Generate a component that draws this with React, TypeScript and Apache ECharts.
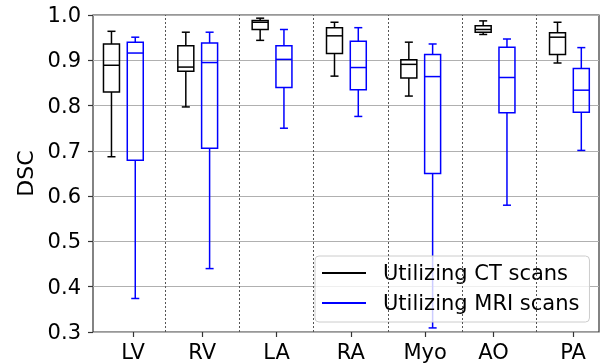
import React, { useEffect, useRef } from "react";
import * as echarts from "echarts";

const categories = ["LV", "RV", "LA", "RA", "Myo", "AO", "PA"];
// [min, q1, median, q3, max]
const ctStats = [
  [0.687, 0.83, 0.889, 0.936, 0.964],
  [0.797, 0.876, 0.885, 0.932, 0.962],
  [0.944, 0.968, 0.984, 0.988, 0.993],
  [0.865, 0.915, 0.954, 0.972, 0.984],
  [0.821, 0.861, 0.891, 0.901, 0.94],
  [0.957, 0.962, 0.968, 0.976, 0.987],
  [0.894, 0.913, 0.951, 0.961, 0.984],
];
const mriStats = [
  [0.374, 0.679, 0.916, 0.94, 0.951],
  [0.44, 0.706, 0.895, 0.938, 0.962],
  [0.75, 0.84, 0.902, 0.932, 0.968],
  [0.776, 0.835, 0.884, 0.942, 0.972],
  [0.309, 0.65, 0.864, 0.913, 0.936],
  [0.58, 0.784, 0.862, 0.929, 0.947],
  [0.701, 0.785, 0.834, 0.882, 0.928],
];
const ctX = [0.28, 1.28, 2.28, 3.28, 4.28, 5.28, 6.28];
const mriX = [0.6, 1.6, 2.6, 3.6, 4.6, 5.6, 6.6];
const tickX = [0.57, 1.5, 2.5, 3.5, 4.5, 5.42, 6.49];
const separators = [1, 2, 3, 4, 5, 6];
const yTicks = [0.3, 0.4, 0.5, 0.6, 0.7, 0.8, 0.9, 1.0];

const FONT = "DejaVu Sans";
const BOX_W = 0.215;
const CAP_W = 0.108;

function makeRender(color: string) {
  return (params: any, api: any) => {
    const x = api.value(0);
    const mn = api.value(1), q1 = api.value(2), md = api.value(3), q3 = api.value(4), mx = api.value(5);
    const c = (xx: number, yy: number) => api.coord([xx, yy]);
    const pMin = c(x, mn), pQ1 = c(x, q1), pMd = c(x, md), pQ3 = c(x, q3), pMax = c(x, mx);
    const bl = c(x - BOX_W / 2, md)[0], br = c(x + BOX_W / 2, md)[0];
    const cl = c(x - CAP_W / 2, md)[0], cr = c(x + CAP_W / 2, md)[0];
    const st = { stroke: color, lineWidth: 1.5, fill: "none" };
    return {
      type: "group",
      children: [
        { type: "line", shape: { x1: pMin[0], y1: pMin[1], x2: pQ1[0], y2: pQ1[1] }, style: st },
        { type: "line", shape: { x1: pQ3[0], y1: pQ3[1], x2: pMax[0], y2: pMax[1] }, style: st },
        { type: "line", shape: { x1: cl, y1: pMin[1], x2: cr, y2: pMin[1] }, style: st },
        { type: "line", shape: { x1: cl, y1: pMax[1], x2: cr, y2: pMax[1] }, style: st },
        { type: "rect", shape: { x: bl, y: pQ3[1], width: br - bl, height: pQ1[1] - pQ3[1] }, style: { ...st, fill: "transparent" } },
        { type: "line", shape: { x1: bl, y1: pMd[1], x2: br, y2: pMd[1] }, style: st },
      ],
    };
  };
}

export default function App() {
  const ref = useRef<HTMLDivElement>(null);
  useEffect(() => {
    const chart = echarts.init(ref.current!, null, { renderer: "svg" });
    const ctData = ctStats.map((s, i) => [ctX[i], ...s]);
    const mriData = mriStats.map((s, i) => [mriX[i], ...s]);
    chart.setOption({
      animation: false,
      grid: { left: 93, right: 3, top: 15, bottom: 31, show: true, borderColor: "#333", borderWidth: 1.2, backgroundColor: "transparent" },
      xAxis: {
        type: "value",
        min: 0.0315,
        max: 6.838,
        axisLine: { show: false },
        splitLine: { show: false },
        axisTick: { show: true, length: 5, customValues: tickX, lineStyle: { color: "#333", width: 1.2 } },
        axisLabel: {
          customValues: tickX,
          margin: 9,
          fontSize: 21,
          fontFamily: FONT,
          color: "#000",
          formatter: (v: number) => {
            const i = tickX.findIndex((t) => Math.abs(t - v) < 1e-6);
            return i >= 0 ? categories[i] : "";
          },
        },
      },
      yAxis: {
        type: "value",
        min: 0.3,
        max: 1.0,
        interval: 0.1,
        name: "DSC",
        nameLocation: "middle",
        nameGap: 56,
        nameTextStyle: { fontSize: 22, fontFamily: FONT, color: "#000" },
        axisLine: { show: false },
        axisTick: { show: true, length: 5, lineStyle: { color: "#333", width: 1.2 } },
        splitLine: { show: true, lineStyle: { color: "#b0b0b0", width: 1 } },
        axisLabel: {
          margin: 12,
          fontSize: 21,
          fontFamily: FONT,
          color: "#000",
          customValues: yTicks,
          formatter: (v: number) => v.toFixed(1),
        },
      },
      legend: {
        orient: "vertical",
        left: 315,
        top: 256,
        itemWidth: 44,
        itemHeight: 2,
        itemGap: 4,
        padding: [4, 10, 6, 7],
        backgroundColor: "rgba(255,255,255,0.8)",
        borderColor: "#cccccc",
        borderWidth: 1,
        borderRadius: 4,
        textStyle: { fontSize: 21, fontFamily: FONT, color: "#000", padding: [0, 0, 0, 12], lineHeight: 26 },
        data: [
          { name: "Utilizing CT scans", icon: "rect", itemStyle: { color: "#000000" } },
          { name: "Utilizing MRI scans", icon: "rect", itemStyle: { color: "#0000ff" } },
        ],
      },
      series: [
        {
          name: "Utilizing CT scans",
          type: "custom",
          itemStyle: { color: "#000000" },
          renderItem: makeRender("#000000"),
          encode: { x: 0, y: [1, 2, 3, 4, 5] },
          data: ctData,
          z: 3,
          markLine: {
            silent: true,
            symbol: "none",
            label: { show: false },
            lineStyle: { type: [2, 2], color: "#555", width: 1 },
            data: separators.map((s) => ({ xAxis: s })),
          },
        },
        {
          name: "Utilizing MRI scans",
          type: "custom",
          itemStyle: { color: "#0000ff" },
          renderItem: makeRender("#0000ff"),
          encode: { x: 0, y: [1, 2, 3, 4, 5] },
          data: mriData,
          z: 3,
        },
      ],
    });
    return () => chart.dispose();
  }, []);
  return <div ref={ref} style={{ position: "fixed", left: 0, top: 0, width: 602, height: 363 }} />;
}
